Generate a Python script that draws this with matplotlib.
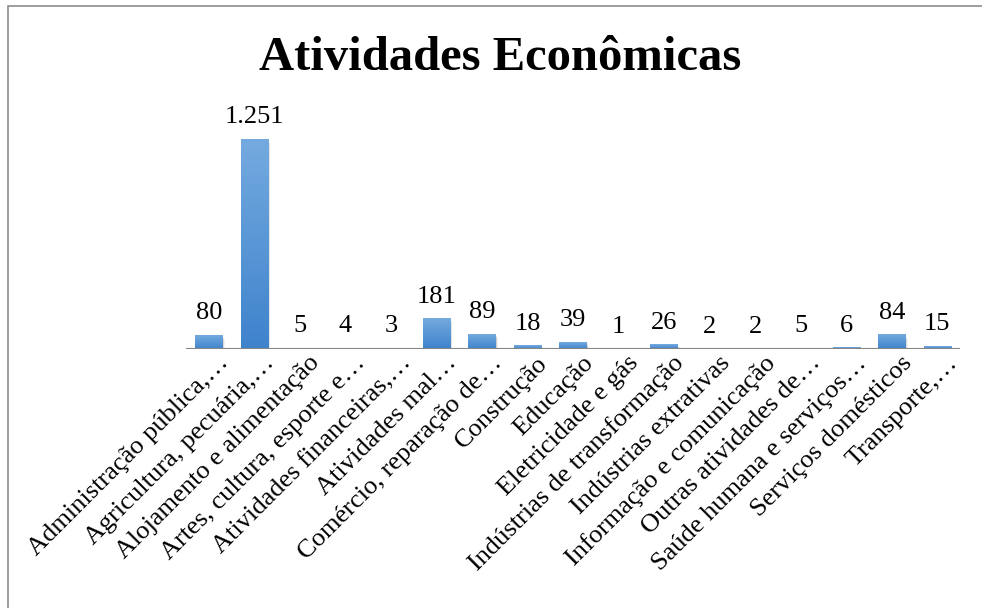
import numpy as np
import matplotlib.pyplot as plt
from matplotlib.colors import LinearSegmentedColormap
from matplotlib.patches import Rectangle
from matplotlib.transforms import ScaledTranslation

plt.rcParams['font.family'] = ['Liberation Serif', 'DejaVu Serif']

# Activity sectors (names shortened with an ellipsis) and counts
categorias = [
    "Administração pública,…",
    "Agricultura, pecuária,…",
    "Alojamento e alimentação",
    "Artes, cultura, esporte e…",
    "Atividades financeiras,…",
    "Atividades mal…",
    "Comércio, reparação de…",
    "Construção",
    "Educação",
    "Eletricidade e gás",
    "Indústrias de transformação",
    "Indústrias extrativas",
    "Informação e comunicação",
    "Outras atividades de…",
    "Saúde humana e serviços…",
    "Serviços domésticos",
    "Transporte,…",
]
valores = [80, 1251, 5, 4, 3, 181, 89, 18, 39, 1, 26, 2, 2, 5, 6, 84, 15]
titulo = "Atividades Econômicas"

W, H = 982, 608
fig = plt.figure(figsize=(W / 100, H / 100), dpi=100)

# outer frame of the chart area
fig.patches.append(Rectangle((8 / W, -0.1), 1.2, 1.1 - 6 / H, transform=fig.transFigure,
                             fill=False, edgecolor='#8c8c8c', linewidth=1.2))

ymax = 1400
base_px, top_px = 349, 349 - 210 * ymax / 1251
ax = fig.add_axes([186 / W, 1 - base_px / H, (960 - 186) / W, (base_px - top_px) / H])

x = np.arange(len(valores))
barras = ax.bar(x, valores, width=0.6, color='none', edgecolor='none', zorder=2)

# vertical gradient inside each bar (lighter at the top)
cmap = LinearSegmentedColormap.from_list('azul', ['#3f83cc', '#74aadf'])
grad = np.linspace(0, 1, 100).reshape(-1, 1)
for r in barras:
    x0, w, h = r.get_x(), r.get_width(), r.get_height()
    # soft shadow under the bar
    for k in range(4):
        ax.add_patch(Rectangle((x0 + 0.02 + 0.01 * k, -ymax * 0.004 * (k + 1)), w, h,
                               facecolor='#000000', alpha=0.05, edgecolor='none', zorder=1))
    ax.imshow(grad, extent=[x0, x0 + w, 0, h], origin='lower', aspect='auto',
              cmap=cmap, zorder=2)

for xi, v in zip(x, valores):
    txt = f"{v:,}".replace(",", ".")
    ax.annotate(txt, (xi, v), xytext=(0, 8), textcoords='offset points',
                ha='center', va='bottom', fontsize=19)

ax.set_xlim(-0.5, len(valores) - 0.5)
ax.set_ylim(0, ymax)
ax.axhline(0, color='#868686', linewidth=1.5, zorder=3)

for s in ax.spines.values():
    s.set_visible(False)
ax.set_yticks([])
ax.set_xticks(x)
ax.set_xticklabels(categorias, rotation=45, ha='right', va='baseline',
                   rotation_mode='anchor', fontsize=19)
ax.tick_params(axis='x', length=0, pad=0)
# shift each label so it ends below and to the right of its bar
desloc = ScaledTranslation(21 / 100, -15 / 100, fig.dpi_scale_trans)
for lbl in ax.get_xticklabels():
    lbl.set_transform(lbl.get_transform() + desloc)
ax.set_facecolor('none')

fig.text(500 / W, 1 - 70 / H, titulo, ha='center', va='baseline',
         fontsize=35, fontweight='bold')

fig.savefig('out.png', dpi=100)
